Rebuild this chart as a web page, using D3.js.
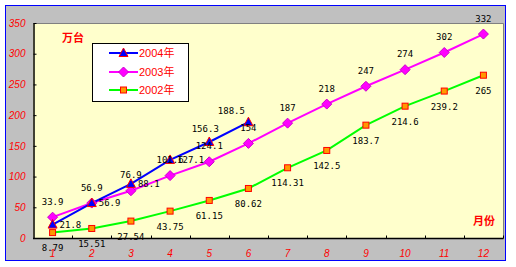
<!DOCTYPE html>
<html><head><meta charset="utf-8">
<script src="https://cdn.jsdelivr.net/npm/d3@7"></script>
<style>
html,body{margin:0;padding:0;background:#fff;}
svg{display:block;}
</style></head>
<body>
<script>
const months = ["1","2","3","4","5","6","7","8","9","10","11","12"];
const s2004 = [21.8, 56.9, 88.1, 127.1, 156.3, 188.5];
const s2003 = [33.9, 56.9, 76.9, 101.6, 124.1, 154, 187, 218, 247, 274, 302, 332];
const s2002 = [8.79, 15.51, 27.54, 43.75, 61.15, 80.62, 114.31, 142.5, 183.7, 214.6, 239.2, 265];
const yTicks = [0, 50, 100, 150, 200, 250, 300, 350];
const seriesNames = ["2004年", "2003年", "2002年"];
const yUnit = "万台";
const xUnit = "月份";

const W = 516, H = 267;
const svg = d3.select("body").append("svg").attr("width", W).attr("height", H);

// chart area
svg.append("rect").attr("x", 5.5).attr("y", 5.5).attr("width", 500).attr("height", 255)
  .attr("fill", "#C0C0C0").attr("stroke", "#0000FF").attr("stroke-width", 1);

const L = 33, R = 503, T = 23, B = 238;
const x = d3.scaleBand().domain(months).range([L, R]).padding(0);
const y = d3.scaleLinear().domain([0, 350]).range([B, T]);
const cx = m => x(m) + x.bandwidth() / 2;

// plot area
svg.append("rect").attr("x", L).attr("y", T).attr("width", R - L).attr("height", B - T)
  .attr("fill", "#FFFFCC");
svg.append("path").attr("d", `M${L},${T + 0.5}H${R + 0.5}V${B}`)
  .attr("fill", "none").attr("stroke", "#808080").attr("stroke-width", 1);

// axes
const yAxis = d3.axisLeft(y).tickValues(yTicks).tickSizeInner(-3).tickSizeOuter(0).tickPadding(8);
const gy = svg.append("g").attr("transform", `translate(${L + 0.5},0)`).call(yAxis);
gy.select(".domain").attr("stroke", "#000").attr("stroke-width", 1.5);
gy.selectAll(".tick line").attr("stroke", "#000");
gy.selectAll(".tick text").attr("fill", "#FF0000").attr("font-family", "Liberation Sans, sans-serif")
  .attr("font-style", "italic").attr("font-size", 10);

const xb = d3.scaleLinear().domain([0, 12]).range([L, R]);
const gx = svg.append("g").attr("transform", `translate(0,${B + 0.5})`);
gx.append("line").attr("x1", L).attr("x2", R + 0.5).attr("y1", 0).attr("y2", 0)
  .attr("stroke", "#000").attr("stroke-width", 1.5);
gx.selectAll("line.tk").data(d3.range(1, 13)).join("line").attr("class", "tk")
  .attr("x1", d => Math.round(xb(d)) + 0.5).attr("x2", d => Math.round(xb(d)) + 0.5)
  .attr("y1", 0).attr("y2", -3).attr("stroke", "#000");
gx.selectAll("text").data(months).join("text")
  .attr("x", d => cx(d)).attr("y", 18).attr("text-anchor", "middle")
  .attr("fill", "#FF0000").attr("font-family", "Liberation Sans, sans-serif")
  .attr("font-style", "italic").attr("font-size", 10).text(d => d);

// series
const line = d3.line().x((d, i) => cx(months[i])).y(d => y(d));
const styles = [
  { data: s2004, color: "#0000FF", marker: "tri" },
  { data: s2003, color: "#FF00FF", marker: "dia" },
  { data: s2002, color: "#00FF00", marker: "sq" }
];
function drawMarker(g, type, px, py) {
  if (type === "tri") {
    g.append("path").attr("d", `M${px},${py - 5}L${px + 4.5},${py + 3.5}L${px - 4.5},${py + 3.5}Z`)
      .attr("fill", "#0000FF").attr("stroke", "#FF0000").attr("stroke-width", 1);
  } else if (type === "dia") {
    g.append("path").attr("d", `M${px},${py - 5}L${px + 5},${py}L${px},${py + 5}L${px - 5},${py}Z`)
      .attr("fill", "#FF00FF").attr("stroke", "#CC00CC").attr("stroke-width", 1);
  } else {
    g.append("rect").attr("x", px - 3).attr("y", py - 3).attr("width", 6).attr("height", 6)
      .attr("fill", "#FF9900").attr("stroke", "#FF0000").attr("stroke-width", 1);
  }
}
const gs = svg.append("g");
styles.slice().reverse().forEach(s => {
  gs.append("path").datum(s.data).attr("d", line).attr("fill", "none")
    .attr("stroke", s.color).attr("stroke-width", 2);
});
styles.slice().reverse().forEach(s => {
  s.data.forEach((v, i) => drawMarker(gs, s.marker, cx(months[i]), y(v)));
});

// data labels
function place(si, i) {
  if (si === 2) return { dx: 0, dy: 15.5, anchor: "middle" };
  if (si === 1) return { dx: 0, dy: -15.5, anchor: "middle" };
  if (i < 4) return { dx: 7, dy: 0, anchor: "start" };
  if (i === 4) return { dx: -4, dy: -13, anchor: "middle" };
  return { dx: -17, dy: -11, anchor: "middle" };
}
const gl = svg.append("g").attr("font-family", "DejaVu Sans Mono, monospace").attr("font-size", 9).attr("fill", "#000");
styles.forEach((s, si) => {
  s.data.forEach((v, i) => {
    const p = place(si, i);
    gl.append("text").attr("x", cx(months[i]) + p.dx).attr("y", y(v) + p.dy)
      .attr("dy", "0.35em").attr("text-anchor", p.anchor).text(String(v));
  });
});

// unit labels
svg.append("text").attr("x", 62).attr("y", 42).attr("fill", "#FF0000")
  .attr("font-family", "Noto Sans CJK SC, sans-serif").attr("font-weight", "bold").attr("font-size", 11).text(yUnit);
svg.append("text").attr("x", 473).attr("y", 225).attr("fill", "#FF0000")
  .attr("font-family", "Noto Sans CJK SC, sans-serif").attr("font-weight", "bold").attr("font-size", 11).text(xUnit);

// legend
const lg = svg.append("g");
lg.append("rect").attr("x", 92.5).attr("y", 43.5).attr("width", 96).attr("height", 58)
  .attr("fill", "#fff").attr("stroke", "#000").attr("stroke-width", 1);
const legY = [53, 72, 90];
styles.forEach((s, i) => {
  lg.append("line").attr("x1", 109).attr("x2", 138).attr("y1", legY[i]).attr("y2", legY[i])
    .attr("stroke", s.color).attr("stroke-width", 2);
  drawMarker(lg, s.marker, 123.5, legY[i]);
  lg.append("text").attr("x", 139).attr("y", legY[i]).attr("dy", "0.36em").attr("fill", "#FF0000")
    .attr("font-family", "Liberation Sans, Noto Sans CJK SC, sans-serif").attr("font-size", 11).text(seriesNames[i]);
});
</script>
</body></html>
